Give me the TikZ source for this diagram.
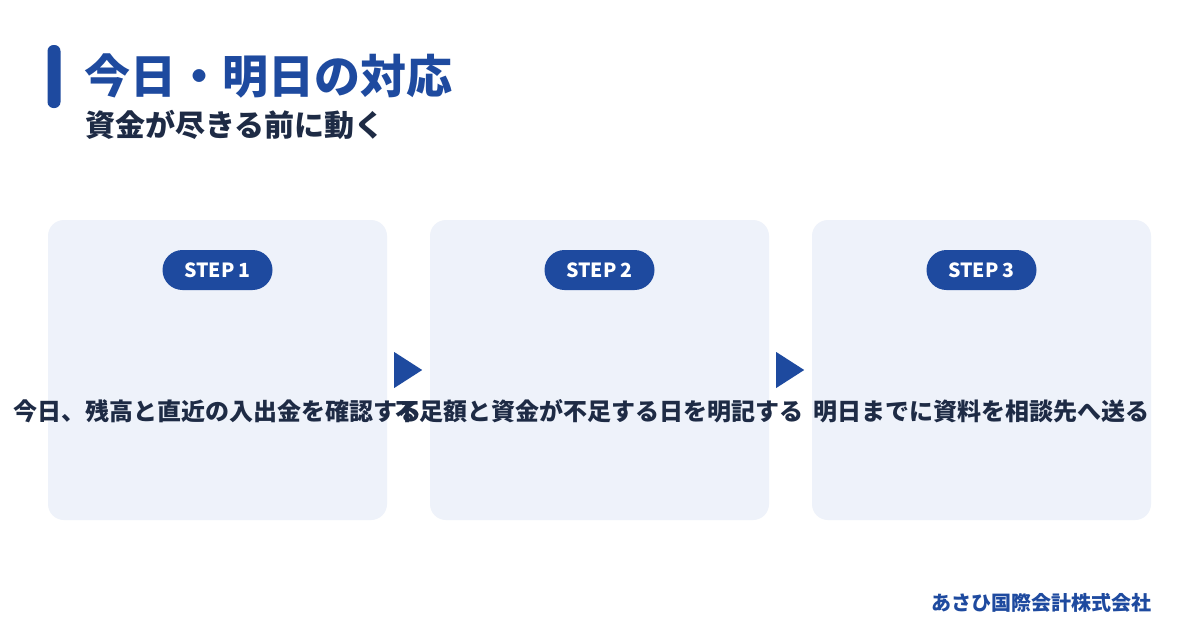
\documentclass[tikz,border=0pt]{standalone}
\usepackage{fontspec}
\newfontfamily\jp{Noto Sans CJK JP}
\usetikzlibrary{calc}
\definecolor{brand}{HTML}{1E4A9F}
\definecolor{ink}{HTML}{1E2B45}
\definecolor{cardbg}{HTML}{EEF2FA}
\tikzset{
  card/.style={draw=none, fill=cardbg, rounded corners=16pt, minimum width=339pt, minimum height=300pt, inner sep=0pt},
  badge/.style={fill=brand, text=white, rounded corners=20pt, minimum width=110pt, minimum height=40pt, inner sep=0pt, font=\jp\bfseries\fontsize{19.5}{22}\selectfont},
  cardtext/.style={text=ink, inner sep=0pt, anchor=base, font=\jp\bfseries\fontsize{24}{28}\selectfont},
  stepmark/.style={fill=brand},
}
\begin{document}
\begin{tikzpicture}[x=1pt,y=-1pt]
\useasboundingbox (0,0) rectangle (1200,630);
\fill[white] (0,0) rectangle (1200,630);
% header
\node[fill=brand, rounded corners=6pt, minimum width=13pt, minimum height=63pt, inner sep=0pt] (bar) at (54,76.5) {};
\node[anchor=base west, inner sep=0pt, text=brand, font=\jp\bfseries\fontsize{46}{52}\selectfont] (title) at (84,93) {今日・明日の対応};
\node[anchor=base west, inner sep=0pt, text=ink, font=\jp\bfseries\fontsize{30}{34}\selectfont] (sub) at (85,136) {資金が尽きる前に動く};
% cards
\node[card] (c1) at (217.5,370) {};
\node[card] (c2) at (599.5,370) {};
\node[card] (c3) at (981.5,370) {};
% badges
\node[badge] (b1) at (217.5,270) {STEP 1};
\node[badge] (b2) at (599.5,270) {STEP 2};
\node[badge] (b3) at (981.5,270) {STEP 3};
% texts
\node[cardtext] (t1) at (217.5,420) {今日、残高と直近の入出金を確認する};
\node[cardtext] (t2) at (599.5,420) {不足額と資金が不足する日を明記する};
\node[cardtext] (t3) at (981.5,420) {明日までに資料を相談先へ送る};
% arrows
\fill[stepmark] ($(c1.east)+(7,-18)$) -- ($(c1.east)+(35,0)$) -- ($(c1.east)+(7,18)$) -- cycle;
\fill[stepmark] ($(c2.east)+(7,-18)$) -- ($(c2.east)+(35,0)$) -- ($(c2.east)+(7,18)$) -- cycle;
% footer
\node[anchor=base east, inner sep=0pt, text=brand, font=\jp\bfseries\fontsize{20}{24}\selectfont] (foot) at (1152,610) {あさひ国際会計株式会社};
\end{tikzpicture}
\end{document}
